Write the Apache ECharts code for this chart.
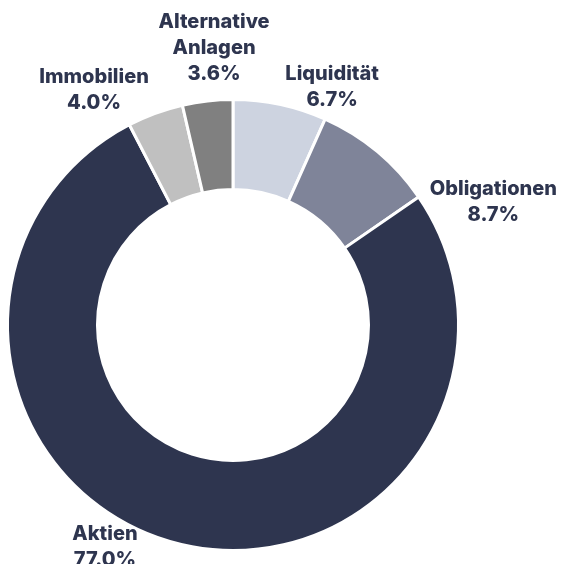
<!DOCTYPE html>
<html>
<head>
<meta charset="utf-8">
<script src="https://cdn.jsdelivr.net/npm/echarts@6/dist/echarts.min.js"></script>
<style>
  html, body { margin: 0; padding: 0; background: #ffffff; }
  #chart { width: 561px; height: 564px; }
</style>
</head>
<body>
<div id="chart"></div>
<script>
// ---- data ----
const categories = ['Liquidität', 'Obligationen', 'Aktien', 'Immobilien', 'Alternative\nAnlagen'];
const shares = [6.7, 8.7, 77.0, 4.0, 3.6];
const colors = ['#cdd3e0', '#7f8499', '#2e354f', '#c0c0c0', '#808080'];

// ---- label placement (polar, relative to the pie centre) ----
const labelAngles = [22.6, 64.7, 210.0, -30.6, -3.9]; // degrees clockwise from top
const labelDists = [258, 288, 256, 273, 278];          // px from centre

const CX = 233, CY = 325;

const chart = echarts.init(document.getElementById('chart'), null, { renderer: 'canvas' });
chart.setOption({
  backgroundColor: '#ffffff',
  animation: false,
  series: [{
    type: 'pie',
    center: [CX, CY],
    radius: [135.5, 225.5],
    startAngle: 90,
    clockwise: true,
    avoidLabelOverlap: false,
    itemStyle: { borderColor: '#ffffff', borderWidth: 3 },
    label: {
      show: true,
      position: 'outside',
      color: '#2e354f',
      fontFamily: 'Inter',
      fontWeight: 800,
      fontSize: 20,
      lineHeight: 26,
      align: 'center',
      formatter: p => p.name + '\n' + p.value.toFixed(1) + '%'
    },
    labelLine: { show: false },
    labelLayout: function (params) {
      const i = params.dataIndex;
      const a = labelAngles[i] * Math.PI / 180;
      return {
        x: CX + labelDists[i] * Math.sin(a),
        y: CY - labelDists[i] * Math.cos(a),
        align: 'center',
        verticalAlign: 'middle'
      };
    },
    emphasis: { disabled: true },
    data: categories.map((c, i) => ({ name: c, value: shares[i], itemStyle: { color: colors[i] } }))
  }]
});
</script>
</body>
</html>
